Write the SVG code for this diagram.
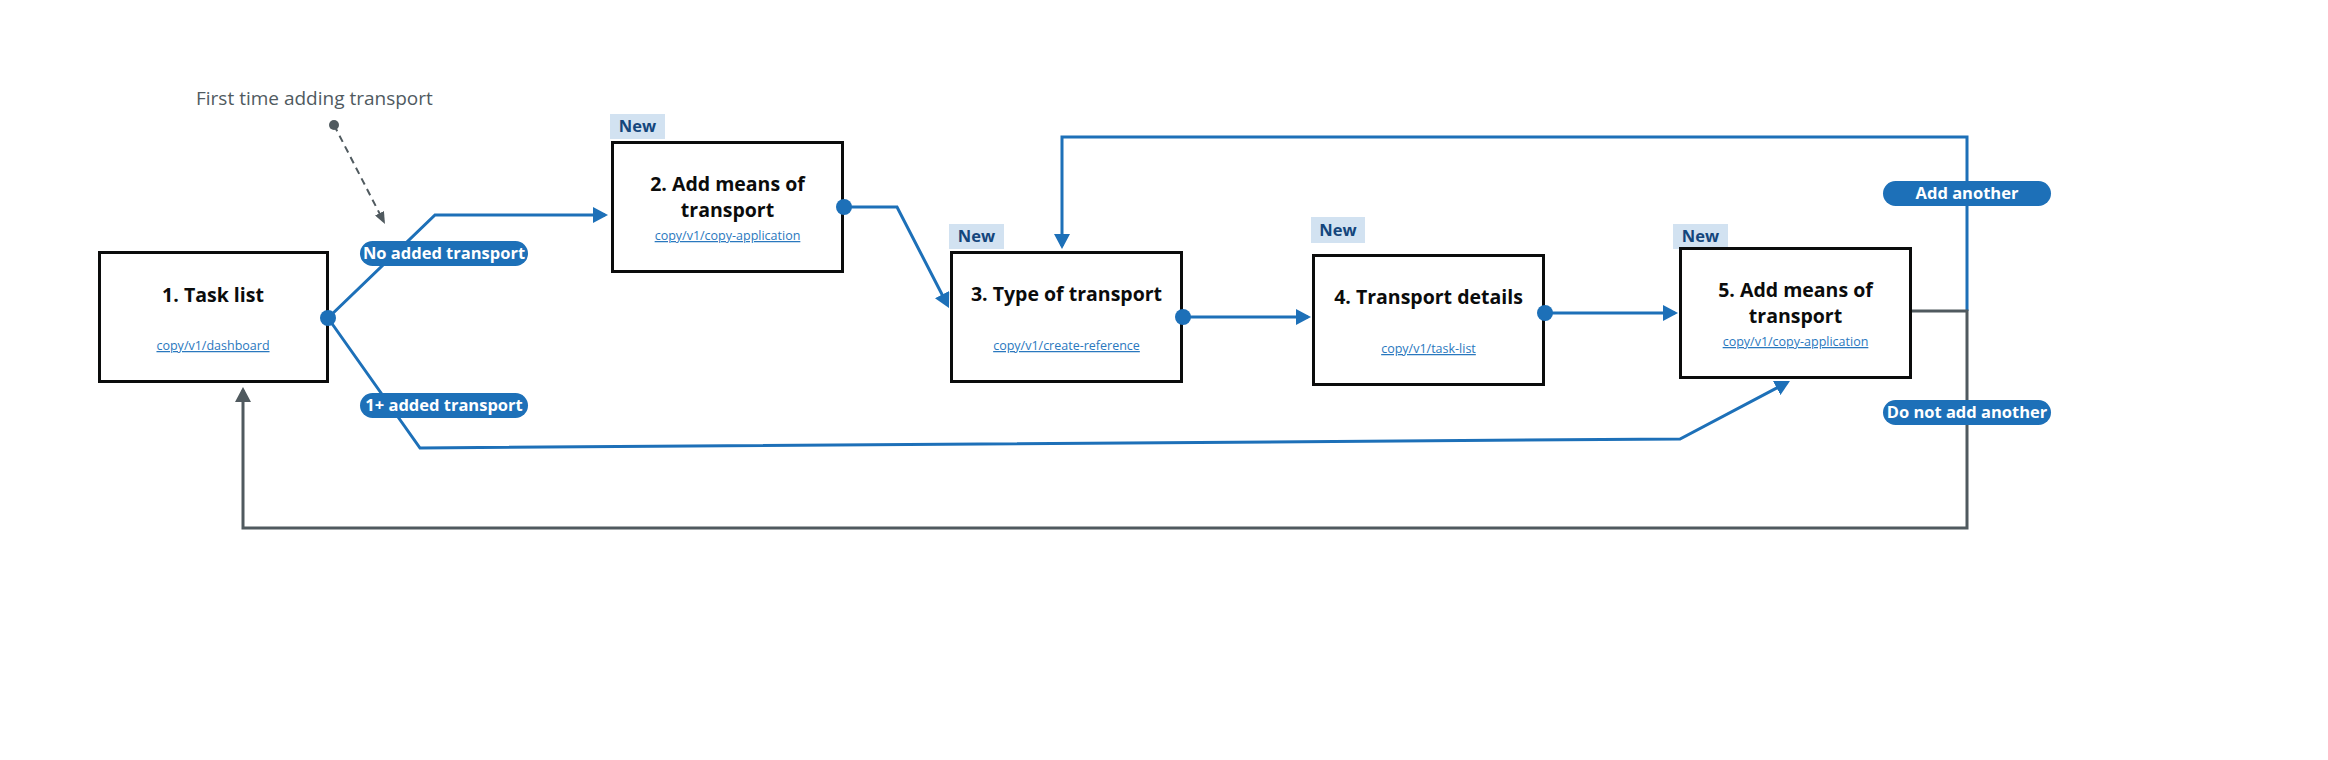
<svg xmlns="http://www.w3.org/2000/svg" width="2328" height="760" viewBox="0 0 2328 760">
<style>
.box{fill:#fff;stroke:#0b0c0c;stroke-width:3}
.title{font-family:"Open Sans","Liberation Sans",sans-serif;font-weight:700;font-size:19.5px;fill:#0b0c0c;text-anchor:middle}
.link{font-family:"Open Sans","Liberation Sans",sans-serif;font-size:12.5px;fill:#2a78be;text-anchor:middle;text-decoration:underline}
.tag{fill:#d2e2f1}
.tagt{font-family:"Open Sans","Liberation Sans",sans-serif;font-weight:700;font-size:16.5px;fill:#14467c;text-anchor:middle}
.pill{fill:#1d70b8}
.pillt{font-family:"Open Sans","Liberation Sans",sans-serif;font-weight:700;font-size:16.5px;fill:#fff;text-anchor:middle}
.bl{fill:none;stroke:#1d70b8;stroke-width:3;stroke-linejoin:miter}
.gr{fill:none;stroke:#505a5f;stroke-width:3}
.note{font-family:"Open Sans","Liberation Sans",sans-serif;font-size:19px;fill:#505a5f}
</style>
<defs>
<marker id="ab" markerUnits="userSpaceOnUse" viewBox="0 0 15 16" markerWidth="15" markerHeight="16" refX="12" refY="8" orient="auto"><path d="M0,0 L15,8 L0,16 z" fill="#1d70b8"/></marker>
<marker id="ag" markerUnits="userSpaceOnUse" viewBox="0 0 15 16" markerWidth="15" markerHeight="16" refX="12" refY="8" orient="auto"><path d="M0,0 L15,8 L0,16 z" fill="#505a5f"/></marker>
<marker id="ad" markerUnits="userSpaceOnUse" viewBox="0 0 12 10" markerWidth="12" markerHeight="10" refX="9" refY="5" orient="auto"><path d="M0,0 L12,5 L0,10 z" fill="#505a5f"/></marker>
</defs>
<rect width="2328" height="760" fill="#fff"/>

<g id="note">
<text class="note" x="196" y="105">First time adding transport</text>
</g>

<g id="node1">
<rect class="box" x="99.5" y="252.5" width="228" height="129"/>
<text class="title" x="213" y="302">1. Task list</text>
<text class="link" x="213" y="350">copy/v1/dashboard</text>
</g>

<g id="node2">
<rect class="tag" x="610" y="114" width="55" height="25"/>
<text class="tagt" x="637.5" y="132">New</text>
<rect class="box" x="612.5" y="142.5" width="230" height="129"/>
<text class="title" x="727.5" y="191">2. Add means of</text>
<text class="title" x="727.5" y="217">transport</text>
<text class="link" x="727.5" y="240">copy/v1/copy-application</text>
</g>

<g id="node3">
<rect class="tag" x="949" y="224" width="55" height="25"/>
<text class="tagt" x="976.5" y="242">New</text>
<rect class="box" x="951.5" y="252.5" width="230" height="129"/>
<text class="title" x="1066.5" y="301">3. Type of transport</text>
<text class="link" x="1066.5" y="350">copy/v1/create-reference</text>
</g>

<g id="node4">
<rect class="tag" x="1311" y="217" width="54" height="26"/>
<text class="tagt" x="1338" y="236">New</text>
<rect class="box" x="1313.5" y="255.5" width="230" height="129"/>
<text class="title" x="1428.5" y="304">4. Transport details</text>
<text class="link" x="1428.5" y="353">copy/v1/task-list</text>
</g>

<g id="node5">
<rect class="tag" x="1673" y="224" width="55" height="25"/>
<text class="tagt" x="1700.5" y="242">New</text>
<rect class="box" x="1680.5" y="248.5" width="230" height="129"/>
<text class="title" x="1795.5" y="297">5. Add means of</text>
<text class="title" x="1795.5" y="323">transport</text>
<text class="link" x="1795.5" y="346">copy/v1/copy-application</text>
</g>

<g id="connectors">
<path d="M334,125 L383.6,221.3" fill="none" stroke="#505a5f" stroke-width="2" stroke-dasharray="7,5" marker-end="url(#ad)"/>
<circle cx="334" cy="125" r="5" fill="#505a5f"/>
<path class="bl" d="M328,318 L435,215 L605,215" marker-end="url(#ab)"/>
<path class="bl" d="M328,318 L420,448 L1680,439 L1787.3,382.4" marker-end="url(#ab)"/>
<path class="bl" d="M844,207 L897,207 L947.6,305.3" marker-end="url(#ab)"/>
<path class="bl" d="M1183,317 L1308,317" marker-end="url(#ab)"/>
<path class="bl" d="M1545,313 L1675,313" marker-end="url(#ab)"/>
<path class="bl" d="M1967,311 L1967,137 L1062,137 L1062,246" marker-end="url(#ab)"/>
<path class="gr" d="M1912,311 L1967,311 L1967,528 L243,528 L243,390" marker-end="url(#ag)"/>
<circle cx="328" cy="318" r="8" fill="#1d70b8"/>
<circle cx="844" cy="207" r="8" fill="#1d70b8"/>
<circle cx="1183" cy="317" r="8" fill="#1d70b8"/>
<circle cx="1545" cy="313" r="8" fill="#1d70b8"/>
<rect class="pill" x="360" y="241" width="168" height="25" rx="12.5"/>
<text class="pillt" x="444" y="259">No added transport</text>
<rect class="pill" x="360" y="393" width="168" height="25" rx="12.5"/>
<text class="pillt" x="444" y="411">1+ added transport</text>
<rect class="pill" x="1883" y="181" width="168" height="25" rx="12.5"/>
<text class="pillt" x="1967" y="199">Add another</text>
<rect class="pill" x="1883" y="400" width="168" height="25" rx="12.5"/>
<text class="pillt" x="1967" y="418">Do not add another</text>
</g>
</svg>
